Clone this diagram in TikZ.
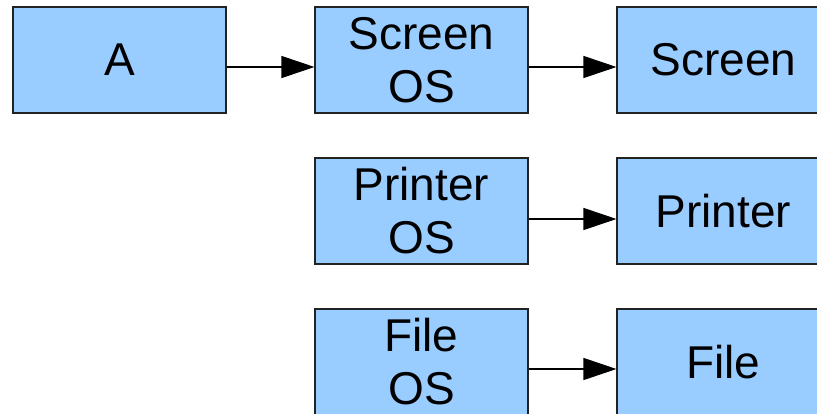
\documentclass[tikz,border=0pt]{standalone}
\usepackage{fontspec}
\setmainfont{Liberation Sans}
\usetikzlibrary{arrows.meta}
\definecolor{boxfill}{HTML}{99CCFF}
\definecolor{boxline}{HTML}{222222}
\begin{document}
\begin{tikzpicture}[x=1pt,y=-1pt,
  blk/.style={draw=boxline, line width=1.1pt, fill=boxfill, rectangle,
    minimum width=213pt, minimum height=106pt, inner sep=0pt, align=center,
    font=\fontsize{46}{53}\selectfont},
  arr/.style={draw=black, line width=1.1pt, -{Triangle[length=33pt,width=22pt]}}]
\clip (0,0) rectangle (817,413);
\useasboundingbox (0,0) rectangle (817,413);
\node[blk] (A)   at (119.5,60) {A};
\node[blk] (SOS) at (421.5,60) {Screen\\OS};
\node[blk] (S)   at (723.5,60) {Screen};
\node[blk] (POS) at (421.5,211) {Printer\\OS};
\node[blk] (P)   at (723.5,211) {Printer};
\node[blk] (FOS) at (421.5,362) {File\\OS};
\node[blk] (F)   at (723.5,362) {File};
\draw[arr] ([yshift=-7pt]A.east) -- ([yshift=-7pt]SOS.west);
\draw[arr] ([yshift=-7pt]SOS.east) -- ([yshift=-7pt]S.west);
\draw[arr] ([yshift=-8pt]POS.east) -- ([yshift=-8pt]P.west);
\draw[arr] ([yshift=-7pt]FOS.east) -- ([yshift=-7pt]F.west);
\end{tikzpicture}
\end{document}
